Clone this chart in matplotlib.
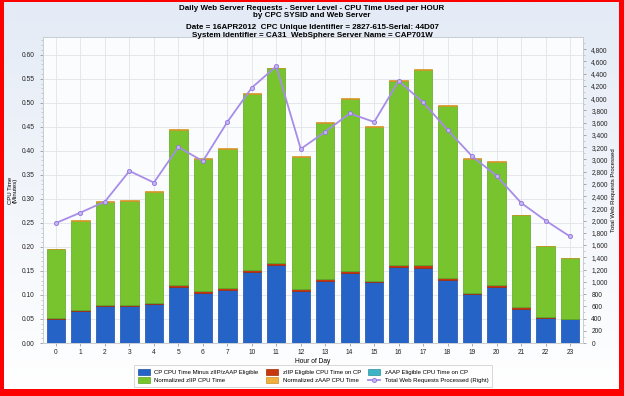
import numpy as np
import matplotlib
matplotlib.use('Agg')
import matplotlib.pyplot as plt
from matplotlib.ticker import FuncFormatter, MultipleLocator

plt.rcParams['font.family'] = ['Liberation Sans', 'DejaVu Sans']

# data (CPU minutes per hour, left axis; requests, right axis)
hours = ['0', '1', '2', '3', '4', '5', '6', '7', '10', '11', '12',
         '13', '14', '15', '16', '17', '18', '19', '20', '21', '22', '23']
cp_minus_eligible = [0.049, 0.066, 0.076, 0.077, 0.082, 0.117, 0.104, 0.111, 0.147, 0.162, 0.109,
                     0.130, 0.145, 0.126, 0.159, 0.157, 0.131, 0.101, 0.117, 0.070, 0.052, 0.049]
ziip_on_cp = [0.004, 0.003, 0.003, 0.003, 0.002, 0.003, 0.004, 0.003, 0.004, 0.005, 0.003,
              0.003, 0.004, 0.004, 0.004, 0.005, 0.004, 0.004, 0.003, 0.004, 0.002, 0.002]
zaap_on_cp = [0.0] * 22
norm_ziip = [0.142, 0.186, 0.215, 0.216, 0.231, 0.323, 0.276, 0.290, 0.368, 0.405, 0.275,
             0.325, 0.359, 0.320, 0.382, 0.406, 0.358, 0.279, 0.257, 0.192, 0.147, 0.125]
norm_zaap = [0.0015] * 22
web_requests = [1960, 2130, 2310, 2810, 2620, 3200, 2970, 3610, 4170, 4520, 3170,
                3450, 3750, 3610, 4280, 3930, 3480, 3050, 2730, 2290, 2000, 1740]

fig = plt.figure(figsize=(6.24, 3.96), dpi=100)
fig.patch.set_facecolor('#ff0000')

# light gradient panel inside the red frame
bg = fig.add_axes([4 / 624, 7 / 396, 615 / 624, 387 / 396])
grad = np.linspace(0, 1, 256).reshape(-1, 1)
bg.imshow(grad, aspect='auto', extent=[0, 1, 0, 1], origin='upper',
          cmap=matplotlib.colors.LinearSegmentedColormap.from_list('bgc', ['#e4ebf6', '#ffffff']))
bg.set_axis_off()

ax = fig.add_axes([43 / 624, 53 / 396, 540 / 624, 305.5 / 396])
ax.set_facecolor('#fbfcfe')
x = np.arange(len(hours))
w = 0.75

b = np.zeros(len(hours))
segs = [
    (cp_minus_eligible, '#2564c6', '#1b4fa8', 'CP CPU Time Minus zIIP/zAAP Eligible'),
    (ziip_on_cp, '#c8360e', '#a02a08', 'zIIP Eligible CPU Time on CP'),
    (zaap_on_cp, '#3cb4c4', '#2a90a0', 'zAAP Eligible CPU Time on CP'),
    (norm_ziip, '#77c42e', '#5ea61e', 'Normalized zIIP CPU Time'),
    (norm_zaap, '#f0b040', '#d09020', 'Normalized zAAP CPU Time'),
]
handles = {}
for vals, col, ec, lab in segs:
    vals = np.array(vals)
    h = ax.bar(x, vals, w, bottom=b, color=col, edgecolor=ec, linewidth=0.5, label=lab, zorder=3)
    handles[lab] = h
    b = b + vals

ax.set_xlim(-0.53, len(hours) - 0.47)
ax.set_ylim(0, 0.636)
ax.set_xticks(x)
ax.set_xticklabels(hours)
ax.yaxis.set_major_locator(MultipleLocator(0.05))
ax.yaxis.set_minor_locator(MultipleLocator(0.01))
ax.yaxis.set_major_formatter(FuncFormatter(lambda v, p: '%.2f' % v))
ax.grid(True, color='#e2e4ea', linewidth=0.6, zorder=0)
ax.tick_params(labelsize=4.8, colors='#888888', labelcolor='#222222', length=2.5, width=0.5)
ax.tick_params(axis='x', pad=2)
ax.tick_params(which='minor', length=1.5, width=0.4, colors='#aaaaaa')
for s in ax.spines.values():
    s.set_color('#c8ccd4')
    s.set_linewidth(0.6)
ax.set_xlabel('Hour of Day', fontsize=4.8, labelpad=1.5)
ax.set_ylabel('CPU Time\n(Minutes)', fontsize=4.3, labelpad=3, linespacing=1.0)

ax2 = ax.twinx()
line, = ax2.plot(x, web_requests, color='#a78de8', linewidth=1.3, marker='o', markersize=3,
                 markerfacecolor='#c4b4f2', markeredgecolor='#9274dc', markeredgewidth=0.6,
                 label='Total Web Requests Processed (Right)', zorder=5)
ax2.set_ylim(0, 4990)
ax2.yaxis.set_major_locator(MultipleLocator(200))
ax2.yaxis.set_minor_locator(MultipleLocator(100))
ax2.yaxis.set_major_formatter(FuncFormatter(lambda v, p: '{:,.0f}'.format(v)))
ax2.tick_params(labelsize=4.8, colors='#888888', labelcolor='#222222', length=2.5, width=0.5)
ax2.tick_params(which='minor', length=1.5, width=0.4, colors='#aaaaaa')
for s in ax2.spines.values():
    s.set_color('#c8ccd4')
    s.set_linewidth(0.6)
ax2.set_ylabel('Total Web Requests Processed', fontsize=4.3, labelpad=2)

# titles
fig.text(0.5, 1 - 12 / 396, 'Daily Web Server Requests - Server Level - CPU Time Used per HOUR\nby CPC SYSID and Web Server',
         ha='center', va='center', fontsize=5.8, fontweight='bold', linespacing=1.05)
fig.text(0.5, 1 - 31.5 / 396, 'Date = 16APR2012  CPC Unique Identifier = 2827-615-Serial: 44D07\nSystem Identifier = CA31  WebSphere Server Name = CAP701W',
         ha='center', va='center', fontsize=5.8, fontweight='bold', linespacing=1.05)

order = ['CP CPU Time Minus zIIP/zAAP Eligible', 'Normalized zIIP CPU Time',
         'zIIP Eligible CPU Time on CP', 'Normalized zAAP CPU Time',
         'zAAP Eligible CPU Time on CP']
hs = [handles[k] for k in order] + [line]
ls = order + ['Total Web Requests Processed (Right)']
leg = fig.legend(hs, ls, ncol=3, loc='center', bbox_to_anchor=(313 / 624, 1 - 376 / 396),
                 fontsize=4.3, frameon=True, fancybox=False, edgecolor='#bbbbbb',
                 handlelength=2.0, handleheight=1.2, columnspacing=1.2, borderpad=0.6,
                 labelspacing=0.35)
leg.get_frame().set_linewidth(0.5)

fig.savefig('out.png', dpi=100, facecolor=fig.get_facecolor())
